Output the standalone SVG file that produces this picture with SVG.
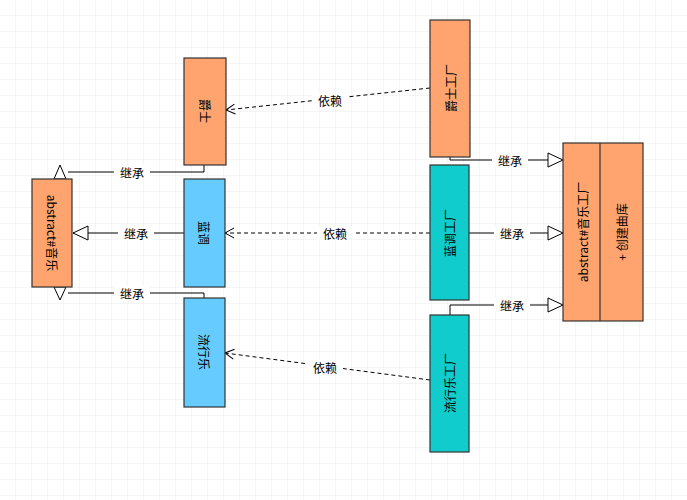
<svg xmlns="http://www.w3.org/2000/svg" width="687" height="500" viewBox="0 0 687 500">
<defs>
<pattern id="g" width="16" height="16" patternUnits="userSpaceOnUse"><path d="M16 0V16H0" fill="none" stroke="#ebebeb" stroke-width="1"/></pattern>
<marker id="v" markerWidth="12" markerHeight="12" refX="10" refY="6" orient="auto" markerUnits="userSpaceOnUse"><path d="M1 1L10 6L1 11" fill="none" stroke="#000" stroke-width="1"/></marker>
<marker id="t" markerWidth="18" markerHeight="16" refX="16" refY="8" orient="auto" markerUnits="userSpaceOnUse"><path d="M1 1L16 8L1 15Z" fill="#fff" stroke="#000" stroke-width="1"/></marker>
</defs>
<style>
.o{fill:#ffa46e;stroke:#333;stroke-width:1.2}
.b{fill:#66ccff;stroke:#333;stroke-width:1.2}
.c{fill:#11cccc;stroke:#333;stroke-width:1.2}
text{font-family:"Noto Sans CJK SC","Liberation Sans",sans-serif;font-size:12px;fill:#000;text-anchor:middle;dominant-baseline:central}
.l{stroke:#000;fill:none;stroke-width:1}
.d{stroke:#000;fill:none;stroke-width:1;stroke-dasharray:4 3}
.lb{fill:#fff}
</style>
<rect width="687" height="500" fill="#fff"/>
<rect width="687" height="500" fill="url(#g)"/>
<g id="connectors">
<path class="l" d="M204 165V172H68"/>
<path d="M54 179L60 165L66 179Z" fill="#fff" stroke="#000"/>
<path class="l" d="M204 298V293H68"/>
<path d="M54 287L60 300L66 287Z" fill="#fff" stroke="#000"/>
<path class="l" d="M184 233H73" marker-end="url(#t)"/>
<path class="d" d="M430 88L226 110" marker-end="url(#v)"/>
<path class="d" d="M430 233H225" marker-end="url(#v)"/>
<path class="d" d="M430 380L225 353" marker-end="url(#v)"/>
<path class="l" d="M450 157V160H563" marker-end="url(#t)"/>
<path class="l" d="M469 233H563" marker-end="url(#t)"/>
<path class="l" d="M450 315V305H563" marker-end="url(#t)"/>
<rect class="lb" x="114" y="165" width="36" height="14"/><text x="132" y="172">继承</text>
<rect class="lb" x="118" y="226" width="36" height="14"/><text x="136" y="233">继承</text>
<rect class="lb" x="114" y="286" width="36" height="14"/><text x="132" y="293">继承</text>
<rect class="lb" x="312" y="93" width="36" height="14"/><text x="330" y="100">依赖</text>
<rect class="lb" x="317" y="226" width="36" height="14"/><text x="335" y="233">依赖</text>
<rect class="lb" x="307" y="360" width="36" height="14"/><text x="325" y="367">依赖</text>
<rect class="lb" x="492" y="153" width="36" height="14"/><text x="510" y="160">继承</text>
<rect class="lb" x="494" y="226" width="36" height="14"/><text x="512" y="233">继承</text>
<rect class="lb" x="494" y="298" width="36" height="14"/><text x="512" y="305">继承</text>
</g>
<g id="music"><rect class="o" x="32" y="179" width="40" height="108"/><text transform="translate(52 233) rotate(90)">abstract#音乐</text></g>
<g id="jazz"><rect class="o" x="184" y="58" width="42" height="107"/><text transform="translate(205 111) rotate(90)">爵士</text></g>
<g id="blues"><rect class="b" x="184" y="179" width="41" height="108"/><text transform="translate(204.5 233) rotate(90)">蓝调</text></g>
<g id="pop"><rect class="b" x="184" y="298" width="41" height="109"/><text transform="translate(204.5 352) rotate(90)">流行乐</text></g>
<g id="jazzFactory"><rect class="o" x="430" y="20" width="40" height="137"/><text transform="translate(450 88) rotate(-90)">爵士工厂</text></g>
<g id="bluesFactory"><rect class="c" x="430" y="165" width="39" height="135"/><text transform="translate(449.5 233) rotate(-90)">蓝调工厂</text></g>
<g id="popFactory"><rect class="c" x="430" y="315" width="39" height="137"/><text transform="translate(449.5 383) rotate(-90)">流行乐工厂</text></g>
<g id="musicFactory"><rect class="o" x="563" y="143" width="80" height="178"/><line x1="600" y1="143" x2="600" y2="321" stroke="#333" stroke-width="1.2"/><text transform="translate(582 232) rotate(-90)">abstract#音乐工厂</text><text transform="translate(621 232) rotate(-90)">+ 创建曲库</text></g>
</svg>
